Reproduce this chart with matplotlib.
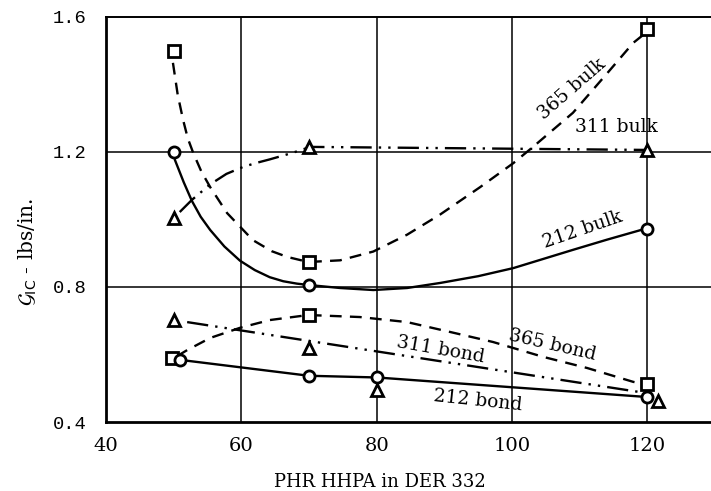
import matplotlib
matplotlib.use("Agg")
import matplotlib.pyplot as plt

# measured points (PHR HHPA, G_IC)
sq_bulk_x = [50, 70, 120]
sq_bulk_y = [1.50, 0.874, 1.565]
tri_bulk_x = [50, 70, 120]
tri_bulk_y = [1.004, 1.215, 1.206]
circ_bulk_x = [50, 70, 120]
circ_bulk_y = [1.20, 0.806, 0.973]

sq_bond_x = [49.7, 70, 120]
sq_bond_y = [0.59, 0.716, 0.512]
tri_bond_x = [50, 70, 80, 121.6]
tri_bond_y = [0.702, 0.619, 0.495, 0.463]
circ_bond_x = [51, 70, 80, 120]
circ_bond_y = [0.584, 0.536, 0.533, 0.474]

# hand drawn curves
c365b_x = [49.9, 50.6, 51.4, 52.1, 52.9, 54.1, 55.4, 57.9, 61.7, 64.5, 66.8, 69.9,
           74.6, 79.5, 84.5, 89.4, 95.3, 100.2, 103.1, 109.0, 114.1, 117.9, 120.2]
c365b_y = [1.464, 1.37, 1.295, 1.24, 1.197, 1.142, 1.096, 1.019, 0.939, 0.906,
           0.889, 0.874, 0.879, 0.905, 0.955, 1.015, 1.096, 1.167, 1.215, 1.316,
           1.434, 1.523, 1.56]
c311b_x = [50.9, 52.7, 55.4, 57.8, 60.3, 62.3, 64.2, 67.5, 70.2, 120]
c311b_y = [1.022, 1.058, 1.104, 1.135, 1.156, 1.168, 1.178, 1.197, 1.215, 1.206]
c212b_x = [50.2, 51.5, 52.7, 54.0, 55.4, 57.5, 59.8, 62.0, 64.2, 66.2, 68.2, 69.9,
           74.6, 79.5, 84.5, 89.4, 95.0, 100.2, 109.0, 114.0, 119.6]
c212b_y = [1.176, 1.11, 1.055, 1.008, 0.969, 0.920, 0.878, 0.850, 0.829, 0.817,
           0.810, 0.806, 0.797, 0.791, 0.797, 0.812, 0.832, 0.856, 0.910, 0.940,
           0.972]
c365d_x = [50.5, 52.0, 55.4, 59.8, 64.2, 69.9, 77.5, 84.5, 90.8, 97.2, 104.6,
           111.1, 117.9, 119.7]
c365d_y = [0.595, 0.613, 0.649, 0.679, 0.702, 0.717, 0.711, 0.696, 0.667, 0.637,
           0.593, 0.560, 0.519, 0.512]
c311d_x = [52, 118.8]
c311d_y = [0.696, 0.489]
c212d_x = [51, 70, 80, 120]
c212d_y = [0.584, 0.537, 0.532, 0.474]

labels = ["365 bulk", "311 bulk", "212 bulk", "365 bond", "311 bond", "212 bond"]
label_x = [108.9, 115.4, 110.4, 106.0, 89.5, 95.0]
label_y = [1.386, 1.274, 0.969, 0.628, 0.613, 0.462]
label_rot = [41, 0, 19, -13, -10, -6]

plt.rcParams['font.family'] = ['DejaVu Serif']
fig = plt.figure(figsize=(7.11, 4.91), dpi=100)
ax = fig.add_axes([0.149, 0.1405, 0.851, 0.8250])

# grid
for gx in [60, 80, 100, 120]:
    ax.axvline(gx, color='black', lw=1.1, zorder=1)
for gy in [0.8, 1.2]:
    ax.axhline(gy, color='black', lw=1.1, zorder=1)

dashed = (0, (5, 3.5))
dashdot = (0, (9, 3, 1, 3, 1, 3))
lw = 1.7
ax.plot(c365b_x, c365b_y, color='black', lw=lw, ls=dashed, zorder=2)
ax.plot(c311b_x, c311b_y, color='black', lw=lw, ls=dashdot, zorder=2)
ax.plot(c212b_x, c212b_y, color='black', lw=lw, ls='-', zorder=2)
ax.plot(c365d_x, c365d_y, color='black', lw=lw, ls=dashed, zorder=2)
ax.plot(c311d_x, c311d_y, color='black', lw=lw, ls=dashdot, zorder=2)
ax.plot(c212d_x, c212d_y, color='black', lw=lw, ls='-', zorder=2)

mk = dict(color='black', mfc='white', mew=2.0, ms=8, ls='none', zorder=3)
ax.plot(sq_bulk_x, sq_bulk_y, marker='s', **mk)
ax.plot(sq_bond_x, sq_bond_y, marker='s', **mk)
ax.plot(tri_bulk_x, tri_bulk_y, marker='^', **mk)
ax.plot(tri_bond_x, tri_bond_y, marker='^', **mk)
ax.plot(circ_bulk_x, circ_bulk_y, marker='o', **mk)
ax.plot(circ_bond_x, circ_bond_y, marker='o', **mk)

for t, x, y, r in zip(labels, label_x, label_y, label_rot):
    ax.text(x, y, t, rotation=r, ha='center', va='center', fontsize=13.5,
            rotation_mode='anchor', zorder=4)

ax.set_xlim(40, 129.4)
ax.set_ylim(0.4, 1.6)
ax.set_xticks([40, 60, 80, 100, 120])
ax.set_yticks([0.4, 0.8, 1.2, 1.6])
ax.set_yticklabels(['0.4', '0.8', '1.2', '1.6'], family='Liberation Mono', fontsize=13.5)
ax.tick_params(axis='x', length=0, pad=11, labelsize=14)
ax.tick_params(axis='y', length=0, pad=14)

ax.spines['right'].set_visible(False)
ax.spines['left'].set_linewidth(2.0)
ax.spines['bottom'].set_linewidth(2.0)
ax.spines['top'].set_linewidth(1.4)

ax.set_xlabel('PHR HHPA in DER 332', fontsize=13)
ax.xaxis.set_label_coords(0.453, -0.127)
ax.set_ylabel(r'$\mathcal{G}_{\rm IC}$ - lbs/in.', fontsize=14.5)
ax.yaxis.set_label_coords(-0.11, 0.42)

fig.savefig('out.png', dpi=100)
